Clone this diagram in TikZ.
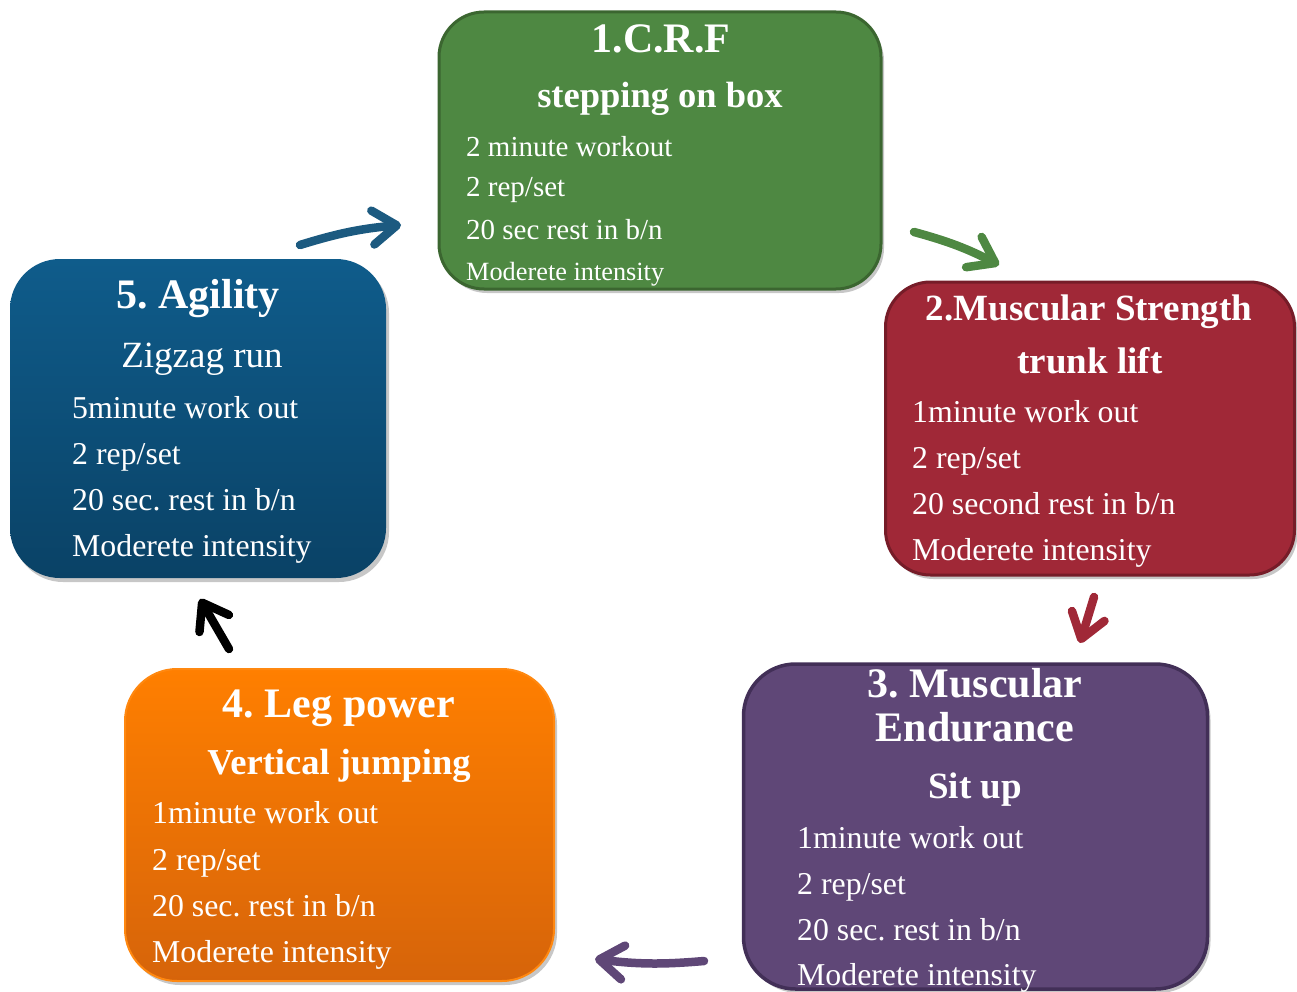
\documentclass[tikz,border=0pt]{standalone}
\usepackage{fontspec}
\setmainfont{Liberation Serif}
\usetikzlibrary{arrows.meta,shadows}
\definecolor{gfill}{HTML}{4E8842}
\definecolor{gline}{HTML}{3B6630}
\definecolor{rfill}{HTML}{A02837}
\definecolor{rline}{HTML}{761C28}
\definecolor{btop}{HTML}{0F5C8B}
\definecolor{bbot}{HTML}{0A4266}
\definecolor{pfill}{HTML}{5F4777}
\definecolor{pline}{HTML}{422F57}
\definecolor{otop}{HTML}{FF7F00}
\definecolor{obot}{HTML}{D6640A}
\definecolor{oline}{HTML}{FF8810}
\definecolor{barrow}{HTML}{1C5A80}
\frenchspacing
\tikzset{
  box/.style={rectangle, inner sep=0pt, drop shadow={shadow xshift=3pt, shadow yshift=-4pt, opacity=0.22, fill=black}},
  ttl/.style={text=white, anchor=base, inner sep=0pt, font=\bfseries\fontsize{#1}{#1}\selectfont},
  sub/.style={text=white, anchor=base, inner sep=0pt, font=\fontsize{#1}{#1}\selectfont},
  body/.style={text=white, anchor=base west, inner sep=0pt, font=\fontsize{#1}{#1}\selectfont},
  cyc/.style={line width=8.5pt, line cap=round, line join=round,
    -{Straight Barb[length=24pt, width=34pt, line cap=round, line join=round]}}
}
\begin{document}
\begin{tikzpicture}[x=1pt,y=-1pt]
\useasboundingbox (0,0) rectangle (1297,992);
% boxes
\node[box, draw=gline, line width=3pt, fill=gfill, rounded corners=45pt,
  minimum width=442pt, minimum height=277pt] (crf) at (660,150.5) {};
\node[box, draw=rline, line width=3pt, fill=rfill, rounded corners=45pt,
  minimum width=409pt, minimum height=293pt] (ms) at (1090,428.5) {};
\node[box, top color=btop, bottom color=bbot, rounded corners=50pt,
  minimum width=376pt, minimum height=319pt] (ag) at (198,418.5) {};
\node[box, draw=pline, line width=3.5pt, fill=pfill, rounded corners=52pt,
  minimum width=464pt, minimum height=325pt] (me) at (975.5,826.5) {};
\node[box, draw=oline, line width=2pt, top color=otop, bottom color=obot, rounded corners=52pt,
  minimum width=429pt, minimum height=312pt] (lp) at (339.5,825) {};
% box 1 text
\node[ttl=42] (t1a) at (661,53) {1.C.R.F};
\node[ttl=36.5] (t1b) at (660,108) {stepping on box};
\node[body=29] (t1c) at (466,157) {2 minute workout};
\node[body=29] (t1d) at (466,197) {2 rep/set};
\node[body=29] (t1e) at (466,240) {20 sec rest in b/n};
\node[body=26.3] (t1f) at (466,280) {Moderete intensity};
% box 2 text
\node[ttl=37] (t2a) at (1089,320) {2.Muscular Strength};
\node[ttl=37] (t2b) at (1090,373) {trunk lift};
\node[body=31.8] (t2c) at (912,422) {1minute work out};
\node[body=31.8] (t2d) at (912,468) {2 rep/set};
\node[body=31.8] (t2e) at (912,514) {20 second rest in b/n};
\node[body=31.8] (t2f) at (912,560) {Moderete intensity};
% box 3 text
\node[ttl=42] (t3a) at (975,697) {3. Muscular};
\node[ttl=42] (t3b) at (975,741) {Endurance};
\node[ttl=37] (t3c) at (975,798) {Sit up};
\node[body=31.8] (t3d) at (797,848) {1minute work out};
\node[body=31.8] (t3e) at (797,894) {2 rep/set};
\node[body=31.8] (t3f) at (797,940) {20 sec. rest in b/n};
\node[body=31.8] (t3g) at (797,985) {Moderete intensity};
% box 4 text
\node[ttl=42] (t4a) at (339,717) {4. Leg power};
\node[ttl=36.5] (t4b) at (339,774) {Vertical jumping};
\node[body=31.8] (t4c) at (152,823) {1minute work out};
\node[body=31.8] (t4d) at (152,870) {2 rep/set};
\node[body=31.8] (t4e) at (152,916) {20 sec. rest in b/n};
\node[body=31.8] (t4f) at (152,962) {Moderete intensity};
% box 5 text
\node[ttl=42] (t5a) at (198,308) {5. Agility};
\node[sub=37] (t5b) at (202,367) {Zigzag run};
\node[body=31.8] (t5c) at (72,418) {5minute work out};
\node[body=31.8] (t5d) at (72,464) {2 rep/set};
\node[body=31.8] (t5e) at (72,510) {20 sec. rest in b/n};
\node[body=31.8] (t5f) at (72,556) {Moderete intensity};
% arrows
\coordinate (a1s) at (300,245); \coordinate (a1e) at (401,225);
\coordinate (a2s) at (914,232); \coordinate (a2e) at (999,265);
\coordinate (a3s) at (1094,597); \coordinate (a3e) at (1080,643);
\coordinate (a4s) at (704,961); \coordinate (a4e) at (595,959);
\coordinate (a5s) at (229,649); \coordinate (a5e) at (200,599);
\draw[cyc, draw=barrow] (a1s) to[bend left=6] (a1e);
\draw[cyc, draw=gfill] (a2s) to[bend left=6] (a2e);
\draw[cyc, draw=rfill] (a3s) -- (a3e);
\draw[cyc, draw=pfill] (a4s) to[bend left=6] (a4e);
\draw[cyc, draw=black] (a5s) -- (a5e);
\end{tikzpicture}
\end{document}
